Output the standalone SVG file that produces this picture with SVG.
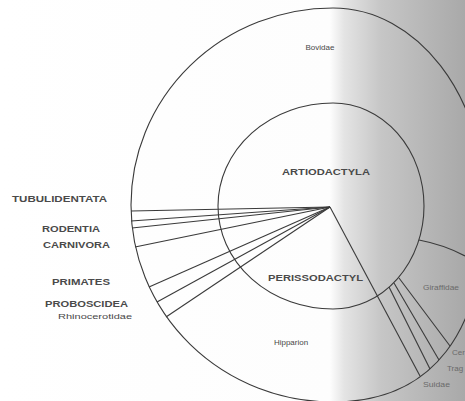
<svg xmlns="http://www.w3.org/2000/svg" width="465" height="401" viewBox="0 0 465 401">
<defs>
<linearGradient id="page" x1="0" y1="0" x2="465" y2="0" gradientUnits="userSpaceOnUse">
<stop offset="0" stop-color="#ffffff"/>
<stop offset="0.71" stop-color="#fdfdfd"/>
<stop offset="0.74" stop-color="#e4e4e4"/>
<stop offset="0.82" stop-color="#c6c6c6"/>
<stop offset="0.93" stop-color="#b4b4b4"/>
<stop offset="1" stop-color="#a9a9a9"/>
</linearGradient>
<style>
.ln{fill:none;stroke:#3a3a3a;stroke-width:1.1}
.cap{font-family:"Liberation Sans",Arial,sans-serif;font-size:9.5px;fill:#4a4a4a;font-weight:bold}
.sm{font-family:"Liberation Sans",Arial,sans-serif;font-size:8px;fill:#484848}
.gr{fill:#6a6a6a}
</style>
</defs>
<rect x="0" y="0" width="465" height="401" fill="url(#page)"/>
<g id="outer">
<path class="ln" d="M131,205 A202,197 0 0 1 333,8 C417,8 485,96 485,205 C485,333 432,402 333,402 A202,197 0 0 1 131,205 Z"/>
<text class="sm" x="320" y="50" text-anchor="middle">Bovidae</text>
<text class="sm" x="291" y="345" text-anchor="middle">Hipparion</text>
</g>
<g id="artiodactyla">
<path class="ln" d="M218,206 A115,103 0 0 1 333,103 A91,103 0 0 1 424,206 A91,103 0 0 1 333,309 A115,103 0 0 1 218,206 Z"/>
<text class="cap" x="326" y="175" text-anchor="middle" textLength="88" lengthAdjust="spacingAndGlyphs">ARTIODACTYLA</text>
<text class="cap" x="268" y="281" textLength="95" lengthAdjust="spacingAndGlyphs">PERISSODACTYL</text>
</g>
<g id="right-region">
<path class="ln" d="M419,240 Q445,245 465,256"/>
<text class="sm gr" x="423" y="290" textLength="36" lengthAdjust="spacingAndGlyphs">Giraffidae</text>
<text class="sm gr" x="452" y="355">Cer</text>
<text class="sm gr" x="447" y="371">Trag</text>
<text class="sm gr" x="423" y="387" textLength="27" lengthAdjust="spacingAndGlyphs">Suidae</text>
</g>
<g id="labels">
<text class="cap" x="12" y="202" textLength="95" lengthAdjust="spacingAndGlyphs">TUBULIDENTATA</text>
<text class="cap" x="42" y="232" textLength="58" lengthAdjust="spacingAndGlyphs">RODENTIA</text>
<text class="cap" x="43" y="248" textLength="67" lengthAdjust="spacingAndGlyphs">CARNIVORA</text>
<text class="cap" x="52" y="285" textLength="58" lengthAdjust="spacingAndGlyphs">PRIMATES</text>
<text class="cap" x="45" y="307" textLength="83" lengthAdjust="spacingAndGlyphs">PROBOSCIDEA</text>
<text class="sm" x="58" y="319" textLength="74" lengthAdjust="spacingAndGlyphs">Rhinocerotidae</text>
</g>
<g id="connectors">
<path class="ln" d="M330,207 L131,211"/>
<path class="ln" d="M330,207 L131,221"/>
<path class="ln" d="M330,207 L132,228"/>
<path class="ln" d="M330,207 L135,247"/>
<path class="ln" d="M330,207 L149,287"/>
<path class="ln" d="M330,207 L157,302"/>
<path class="ln" d="M330,207 L166,317"/>
<path class="ln" d="M330,207 L420,376"/>
<path class="ln" d="M389,287 L430,369"/>
<path class="ln" d="M394,283 L439,360"/>
<path class="ln" d="M399,278 L450,346"/>
</g>
</svg>
